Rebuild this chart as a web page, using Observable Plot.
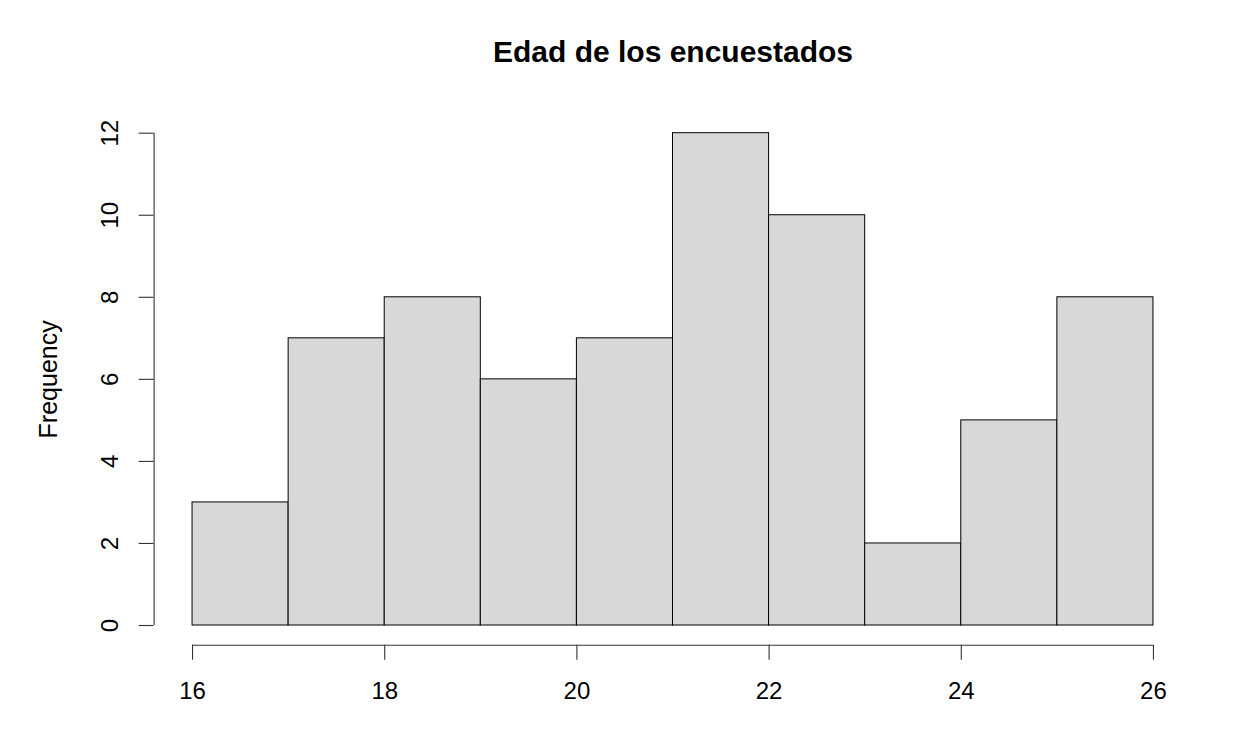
<!DOCTYPE html>
<html>
<head>
<meta charset="utf-8">
<script src="https://cdn.jsdelivr.net/npm/d3@7"></script>
<script src="https://cdn.jsdelivr.net/npm/@observablehq/plot@0.6"></script>
<style>
  html, body { margin: 0; padding: 0; background: #fff; }
  svg { display: block; }
</style>
</head>
<body>
<div id="chart"></div>
<script>
// Data
const binStarts = [16, 17, 18, 19, 20, 21, 22, 23, 24, 25];
const binEnds   = [17, 18, 19, 20, 21, 22, 23, 24, 25, 26];
const counts    = [3, 7, 8, 6, 7, 12, 10, 2, 5, 8];
const xTicks = [16, 18, 20, 22, 24, 26];
const yTicks = [0, 2, 4, 6, 8, 10, 12];
const title = "Edad de los encuestados";
const yLabel = "Frequency";

const bins = binStarts.map((s, i) => ({x1: s, x2: binEnds[i], count: counts[i]}));

// R-style 4% extension of the axis ranges
const xMin = 16, xMax = 26, yMax = 12;
const xPad = (xMax - xMin) * 0.04, yPad = yMax * 0.04;

const font = "'Liberation Sans', Arial, Helvetica, sans-serif";

const chart = Plot.plot({
  width: 1236,
  height: 744,
  marginLeft: 153.6,
  marginRight: 44.6,
  marginTop: 113,
  marginBottom: 99.3,
  style: {fontFamily: font, background: "#fff", color: "#000"},
  x: {domain: [xMin - xPad, xMax + xPad], axis: null},
  y: {domain: [-yPad, yMax + yPad], axis: null},
  marks: [
    Plot.rectY(bins, {x1: "x1", x2: "x2", y1: 0, y2: "count", fill: "#d8d8d8", stroke: "#000", strokeWidth: 1}),
    // y axis line and ticks
    Plot.ruleX([xMin - xPad], {y1: yTicks[0], y2: yTicks[yTicks.length - 1], stroke: "#333", strokeWidth: 1.1}),
    Plot.axisY(yTicks, {anchor: "left", tickSize: 15, tickFormat: () => "", label: null, stroke: "#333", strokeWidth: 1.1}),
    Plot.text(yTicks, {y: d => d, text: d => String(d), frameAnchor: "left", dx: -44, rotate: -90, textAnchor: "middle", lineAnchor: "middle", fontSize: 24, fill: "#000"}),
    // x axis line and ticks
    Plot.ruleY([-yPad], {x1: xTicks[0], x2: xTicks[xTicks.length - 1], stroke: "#333", strokeWidth: 1.1}),
    Plot.axisX(xTicks, {anchor: "bottom", tickSize: 15, tickFormat: () => "", label: null, stroke: "#333", strokeWidth: 1.1}),
    Plot.text(xTicks, {x: d => d, text: d => String(d), frameAnchor: "bottom", dy: 46, lineAnchor: "middle", fontSize: 24, fill: "#000"}),
    // y label
    Plot.text([yLabel], {text: d => d, frameAnchor: "left", dx: -105, rotate: -90, textAnchor: "middle", lineAnchor: "middle", fontSize: 25, fill: "#000"}),
    // title
    Plot.text([title], {text: d => d, frameAnchor: "top", dy: -61, lineAnchor: "middle", fontSize: 30, fontWeight: "bold", fill: "#000"})
  ]
});
document.getElementById("chart").appendChild(chart);
</script>
</body>
</html>
